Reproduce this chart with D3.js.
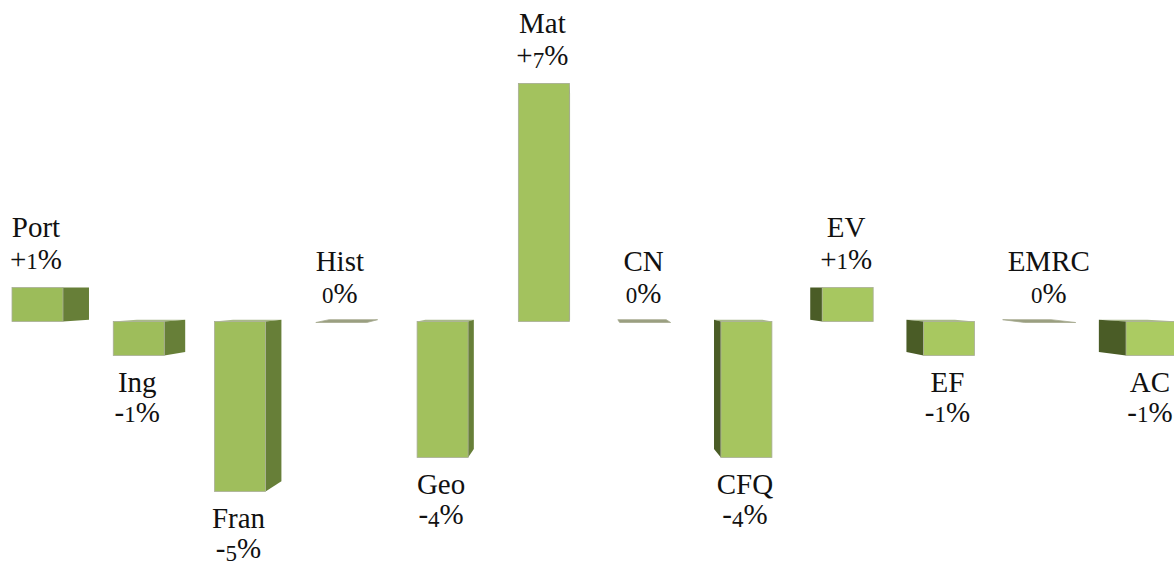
<!DOCTYPE html>
<html>
<head>
<meta charset="utf-8">
<style>
  html, body { margin: 0; padding: 0; background: #fff; }
  svg { display: block; }
  text { font-family: "Liberation Serif", serif; font-size: 29px; fill: #111; text-anchor: middle; }
</style>
<script src="https://cdnjs.cloudflare.com/ajax/libs/d3/7.8.5/d3.min.js"></script>
</head>
<body>
<div id="chart"></div>
<script>
var categories = ["Port", "Ing", "Fran", "Hist", "Geo", "Mat", "CN", "CFQ", "EV", "EF", "EMRC", "AC"];
var values = [1, -1, -5, 0, -4, 7, 0, -4, 1, -1, 0, -1];

var width = 1174,
    height = 565;

var svg = d3.select("#chart")
  .append("svg")
    .attr("width", width)
    .attr("height", height);

var x = d3.scaleBand()
    .domain(categories)
    .range([12, 1177])
    .paddingInner(0.4965)
    .paddingOuter(0);

// 34px per percentage point, zero line at 321.5
var y = d3.scaleLinear()
    .domain([-5, 7])
    .range([491.5, 83.5]);

// the bars are shoeboxes seen in perspective, everything recedes 5% towards this point
var vanishX = 583,
    vanishY = 285,
    recede = 0.05;

function backX(px) { return px + (vanishX - px) * recede; }
function backY(py) { return py + (vanishY - py) * recede; }

function quad(pts) {
  return d3.line()(pts) + "Z";
}

var frontColor = d3.scaleLinear()
    .domain([0, width])
    .range(["#9cbb5a", "#abcb62"]);

var bars = svg.selectAll("g.bar")
    .data(categories.map(function(c, i) { return { name: c, value: values[i] }; }))
    .enter().append("g")
      .attr("class", "bar");

bars.each(function(d) {
  var g = d3.select(this),
      x0 = x(d.name),
      x1 = x0 + x.bandwidth(),
      top = y(Math.max(d.value, 0)),
      bottom = y(Math.min(d.value, 0));

  // flat bars only show their lid
  if (d.value === 0) {
    g.append("path")
        .attr("d", quad([[x0, top + 1], [x1, top + 1], [backX(x1), backY(top)], [backX(x0), backY(top)]]))
        .attr("fill", "#9a9f80")
        .attr("stroke", "#a7ab90")
        .attr("stroke-width", 0.8);
    return;
  }

  var onLeft = (x0 + x1) / 2 > vanishX,
      edge = onLeft ? x0 : x1;

  // lid
  g.append("path")
      .attr("d", quad([[x0, top], [x1, top], [backX(x1), backY(top)], [backX(x0), backY(top)]]))
      .attr("fill", "#a9b98a");

  // side face, darker when it is on the left
  g.append("path")
      .attr("d", quad([[edge, top], [edge, bottom], [backX(edge), backY(bottom)], [backX(edge), backY(top)]]))
      .attr("fill", onLeft ? "#4a5c26" : "#677f38");

  // front face
  g.append("rect")
      .attr("x", x0)
      .attr("y", top)
      .attr("width", x.bandwidth())
      .attr("height", bottom - top)
      .attr("fill", frontColor((x0 + x1) / 2))
      .attr("stroke", "#a8ad96")
      .attr("stroke-width", 0.8);
});

// ||================================||
// || LABELS                         ||
// ||================================||

function pctLabel(v) {
  return (v > 0 ? "+" : "") + v + "%";
}

function labelX(d) {
  return x(d.name) + x.bandwidth() / 2 - 1.5;
}

bars.append("text")
    .attr("x", labelX)
    .attr("y", function(d) { return d.value < 0 ? y(d.value) + 36 : y(d.value) - 51; })
    .text(function(d) { return d.name; });

// digits in the original are old style, so 4 5 7 hang under the baseline
var descending = "457",
    digitDrop = 3;

bars.append("text")
    .attr("x", labelX)
    .attr("y", function(d) { return d.value < 0 ? y(d.value) + 66 : y(d.value) - 19; })
    .each(function(d) {
      var t = d3.select(this),
          carry = 0;
      pctLabel(d.value).split("").forEach(function(ch) {
        var isDigit = /[0-9]/.test(ch),
            drop = descending.indexOf(ch) >= 0 ? digitDrop : 0;
        t.append("tspan")
            .attr("dy", drop - carry)
            .attr("font-size", isDigit ? 23 : 29)
            .style("font-size", (isDigit ? 23 : 29) + "px")
            .text(ch);
        carry = drop;
      });
    });
</script>
</body>
</html>
